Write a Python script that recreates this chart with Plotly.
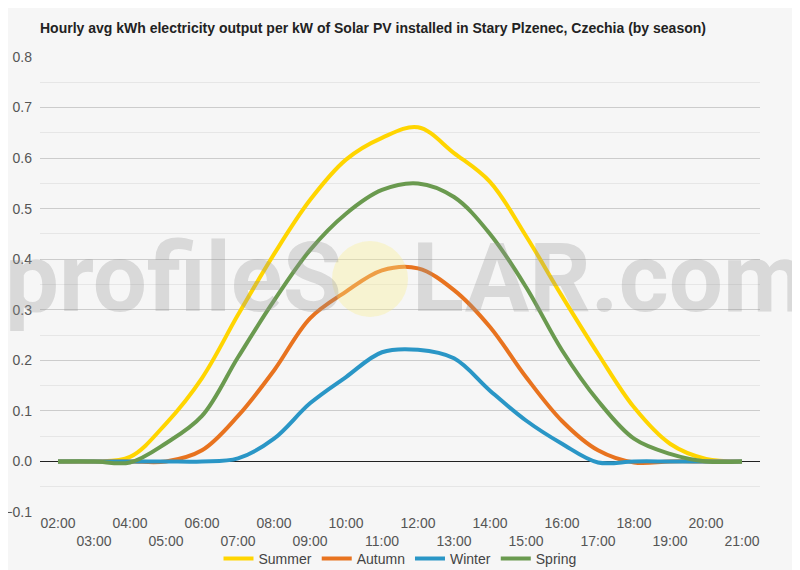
import plotly.graph_objects as go

hours = list(range(2, 22))
tick_labels = [("%02d:00" % h) if h % 2 == 0 else ("<br>%02d:00" % h) for h in hours]

summer = [0.0, 0.0, 0.009, 0.075, 0.165, 0.29, 0.41, 0.517, 0.597, 0.64, 0.661, 0.61, 0.553, 0.446, 0.327, 0.213, 0.107, 0.035, 0.005, 0.0]
autumn = [0.0, 0.0, 0.0, 0.0, 0.022, 0.09, 0.18, 0.283, 0.336, 0.378, 0.382, 0.339, 0.266, 0.167, 0.08, 0.022, -0.002, 0.0, 0.0, 0.0]
winter = [0.0, 0.0, 0.0, 0.0, 0.0, 0.006, 0.045, 0.115, 0.167, 0.216, 0.221, 0.204, 0.14, 0.081, 0.035, -0.002, 0.0, 0.0, 0.0, 0.0]
spring = [0.0, 0.0, -0.002, 0.036, 0.09, 0.206, 0.318, 0.418, 0.49, 0.537, 0.55, 0.523, 0.45, 0.345, 0.22, 0.12, 0.045, 0.015, 0.0, 0.0]

series = [
    ("Summer", summer, "#FFD500"),
    ("Autumn", autumn, "#E8731F"),
    ("Winter", winter, "#2A96C6"),
    ("Spring", spring, "#6A9A4F"),
]

title_text = "Hourly avg kWh electricity output per kW of Solar PV installed in Stary Plzenec, Czechia (by season)"

fig = go.Figure()
for name, vals, color in series:
    fig.add_trace(go.Scatter(x=hours, y=vals, name=name, mode="lines",
                             line=dict(color=color, width=4, shape="spline")))

# page has an 8px body margin: figure is drawn at (8, 8)
OFF = 8
W, H = 800 - OFF, 570 - OFF
L, R, T, B = 32, 40, 49, 58
pw, ph = W - L - R, H - T - B

def px(xs):
    return (xs - OFF - L) / pw

def py(ys):
    return (H - B - (ys - OFF)) / ph

fig.update_layout(
    width=W, height=H,
    margin=dict(l=L, r=R, t=T, b=B, autoexpand=False),
    paper_bgcolor="#f6f6f6", plot_bgcolor="#f6f6f6",
    font=dict(family="Liberation Sans, Arial, sans-serif", color="#555", size=14),
    title=dict(text="<b>" + title_text + "</b>", xref="container", x=(40 - OFF) / W, xanchor="left",
               yref="container", y=1 - (28 - OFF) / H, yanchor="middle",
               font=dict(size=14, color="#222")),
    showlegend=True,
    legend=dict(orientation="h", x=0.5, xanchor="center", y=py(543), yanchor="top",
                font=dict(size=14, color="#444"), bgcolor="rgba(0,0,0,0)", itemwidth=30),
    xaxis=dict(range=[1.5, 21.5], tickmode="array", tickvals=hours, ticktext=tick_labels,
               showgrid=False, zeroline=False, showline=False, ticks="", tickangle=0,
               ticklabelstandoff=1, automargin=False, tickfont=dict(size=14, color="#555")),
    yaxis=dict(range=[-0.1, 0.8], dtick=0.1, tickformat=".1f", showgrid=True, gridcolor="#cccccc",
               zeroline=True, zerolinecolor="#222", zerolinewidth=1, ticks="", automargin=False,
               ticklabelstandoff=7, tickfont=dict(size=14, color="#555"),
               minor=dict(dtick=0.05, showgrid=True, gridcolor="#e6e6e6")),
)

# watermark
wm_font = dict(family="Roboto, Liberation Sans, sans-serif", size=96, weight="bold",
               color="rgba(150,150,150,0.3)")
fig.add_annotation(text="profileS", xref="paper", yref="paper", x=px(3), y=py(278), xanchor="left",
                   yanchor="middle", showarrow=False, font=wm_font)
fig.add_annotation(text="LAR.com", xref="paper", yref="paper", x=px(410), y=py(278), xanchor="left",
                   yanchor="middle", showarrow=False, font=wm_font)
fig.add_shape(type="circle", xref="paper", yref="paper", x0=px(332), x1=px(408), y0=py(317), y1=py(241),
              fillcolor="rgba(250,238,140,0.35)", line=dict(width=0), layer="above")

fig.write_html("out.html")
